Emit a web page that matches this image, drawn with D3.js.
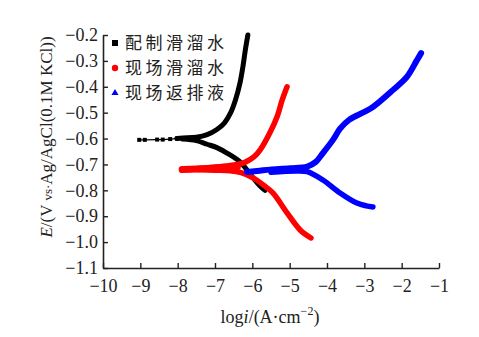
<!DOCTYPE html>
<html><head><meta charset="utf-8">
<script src="https://cdn.jsdelivr.net/npm/d3@7"></script>
<style>body{margin:0;background:#fff}svg{display:block}</style>
</head><body>
<svg id="c" width="479" height="337"></svg>
<script>
// ---- data (log i, E) ----
const seriesNames = ["配制滑溜水", "现场滑溜水", "现场返排液"];
const seriesColors = ["#000000", "#ff0000", "#0000ff"];
const xTicks = [-10, -9, -8, -7, -6, -5, -4, -3, -2, -1];
const yTicks = [-0.2, -0.3, -0.4, -0.5, -0.6, -0.7, -0.8, -0.9, -1.0, -1.1];

const blackTail = [[-9.03,-0.605],[-8.88,-0.605],[-8.55,-0.604],[-8.4,-0.604],[-8.2,-0.602],[-8.02,-0.6]];
const blackAnodic = [[-8.02,-0.6],[-7.86,-0.598],[-7.5,-0.595],[-7.21,-0.585],[-6.95,-0.565],[-6.75,-0.54],[-6.58,-0.5],[-6.45,-0.45],[-6.33,-0.385],[-6.25,-0.32],[-6.19,-0.26],[-6.12,-0.2]];
const blackCathodic = [[-7.86,-0.602],[-7.5,-0.608],[-7.21,-0.622],[-6.95,-0.635],[-6.68,-0.656],[-6.33,-0.69],[-5.98,-0.752],[-5.8,-0.782],[-5.66,-0.80]];

const redFlat = [[-7.88,-0.72],[-7.5,-0.718],[-7.1,-0.715],[-6.7,-0.712],[-6.4,-0.71]];
const redAnodic = [[-7.88,-0.72],[-7.5,-0.717],[-7.1,-0.712],[-6.7,-0.706],[-6.4,-0.70],[-6.2,-0.692],[-5.95,-0.67],[-5.79,-0.644],[-5.53,-0.578],[-5.34,-0.517],[-5.2,-0.451],[-5.07,-0.40]];
const redCathodic = [[-7.5,-0.72],[-7.0,-0.722],[-6.6,-0.724],[-6.3,-0.732],[-5.98,-0.752],[-5.7,-0.78],[-5.45,-0.81],[-5.07,-0.887],[-4.72,-0.953],[-4.43,-0.984]];

const blueAnodic = [[-6.14,-0.729],[-5.8,-0.724],[-5.53,-0.72],[-4.99,-0.715],[-4.53,-0.708],[-4.3,-0.69],[-4.11,-0.656],[-3.84,-0.605],[-3.65,-0.562],[-3.4,-0.527],[-3.0,-0.497],[-2.77,-0.478],[-2.23,-0.412],[-1.86,-0.362],[-1.59,-0.297],[-1.48,-0.27]];
const blueCathodic = [[-5.5,-0.73],[-4.8,-0.725],[-4.53,-0.728],[-4.11,-0.76],[-3.65,-0.81],[-3.2,-0.849],[-2.95,-0.86],[-2.77,-0.864]];

// ---- layout ----
const svg = d3.select("#c");
const x = d3.scaleLinear().domain([-10, -1]).range([103, 439]);
const y = d3.scaleLinear().domain([-1.1, -0.2]).range([268, 35]);
const textColor = "#222";
const serif = "'Liberation Serif', 'DejaVu Serif', serif";

const line = d3.line().x(d => x(d[0])).y(d => y(d[1])).curve(d3.curveCatmullRom.alpha(0.5));

function branch(data, color, w) {
  svg.append("path").attr("d", line(data)).attr("fill", "none")
    .attr("stroke", color).attr("stroke-width", w)
    .attr("stroke-linecap", "round").attr("stroke-linejoin", "round");
}

// black
svg.append("path").attr("d", d3.line().x(d => x(d[0])).y(d => y(d[1]))(blackTail))
  .attr("fill", "none").attr("stroke", "#000").attr("stroke-width", 1.2);
svg.selectAll(".bt").data(blackTail).enter().append("rect")
  .attr("x", d => x(d[0]) - 2).attr("y", d => y(d[1]) - 2).attr("width", 4).attr("height", 4).attr("fill", "#000");
branch(blackAnodic, seriesColors[0], 5);
branch(blackCathodic, seriesColors[0], 5);
// red
branch(redFlat, seriesColors[1], 7);
branch(redAnodic, seriesColors[1], 5.5);
branch(redCathodic, seriesColors[1], 5.5);
// blue
branch(blueAnodic, seriesColors[2], 6);
branch(blueCathodic, seriesColors[2], 5.5);

// ---- axes ----
const fmtY = d3.format(".1f");
const yAxis = d3.axisLeft(y).tickValues(yTicks).tickFormat(fmtY).tickSizeInner(-5).tickSizeOuter(0).tickPadding(5);
const xAxis = d3.axisBottom(x).tickValues(xTicks).tickFormat(d3.format("d")).tickSizeInner(-5).tickSizeOuter(0).tickPadding(11);

const gy = svg.append("g").attr("transform", "translate(103,0)").call(yAxis);
const gx = svg.append("g").attr("transform", "translate(0,268)").call(xAxis);
[gx, gy].forEach(g => {
  g.attr("font-family", null).attr("font-size", null);
  g.select(".domain").attr("stroke", textColor).attr("stroke-width", 1.6);
  g.selectAll(".tick line").attr("stroke", textColor).attr("stroke-width", 1.4);
  g.selectAll(".tick text").attr("fill", textColor)
    .style("font-family", serif).style("font-size", "18px");
});

// ---- axis titles ----
const yl = svg.append("text").attr("transform", "translate(52,137) rotate(-90)")
  .attr("text-anchor", "middle").attr("fill", textColor)
  .style("font-family", serif).style("font-size", "17px");
yl.append("tspan").style("font-style", "italic").text("E");
yl.append("tspan").text("/(V ");
yl.append("tspan").style("font-size", "13px").text("vs·");
yl.append("tspan").text("Ag/AgCl(0.1M KCl))");

const xl = svg.append("text").attr("x", 270).attr("y", 323)
  .attr("text-anchor", "middle").attr("fill", textColor)
  .style("font-family", serif).style("font-size", "18px");
xl.append("tspan").text("log");
xl.append("tspan").style("font-style", "italic").text("i");
xl.append("tspan").text("/(A·cm");
xl.append("tspan").attr("dy", -8).style("font-size", "12px").text("−2");
xl.append("tspan").attr("dy", 8).text(")");

// ---- legend ----
const lg = svg.append("g");
const legY = [43, 68, 93];
seriesNames.forEach((n, i) => {
  const cy = legY[i];
  if (i === 0) lg.append("rect").attr("x", 112).attr("y", cy - 3).attr("width", 6).attr("height", 6).attr("fill", seriesColors[i]);
  if (i === 1) lg.append("circle").attr("cx", 115).attr("cy", cy).attr("r", 3.2).attr("fill", seriesColors[i]);
  if (i === 2) lg.append("path").attr("d", d3.symbol(d3.symbolTriangle, 22)()).attr("transform", `translate(115,${cy})`).attr("fill", seriesColors[i]);
  lg.append("text").attr("x", 125).attr("y", cy).attr("dy", "0.36em").attr("fill", textColor)
    .style("font-family", "'Noto Sans CJK SC', sans-serif").style("font-size", "17px")
    .style("letter-spacing", "3.5px").text(n);
});
</script>
</body></html>
